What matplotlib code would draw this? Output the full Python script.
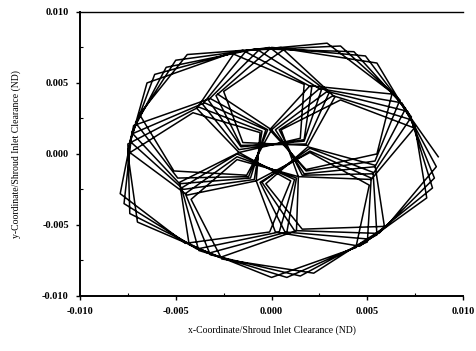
import numpy as np
import matplotlib
matplotlib.use("Agg")
import matplotlib.pyplot as plt
from matplotlib.ticker import MultipleLocator, FormatStrFormatter

# Orbit of the shroud centre, sampled positions in units of 1e-4 of the inlet clearance
orbit_x_e4 = [87, 64, 20, -1, 18, 55, 63, 29, -19, -39, -17, 15, 17, -21, -65, -75, -44, -8, -6, -41,
              -75, -70, -27, 13, 14, -18, -42, -26, 22, 59, 54, 19, -3, 16, 60, 86, 68, 25, 0, 18,
              54, 67, 36, -13, -36, -17, 17, 21, -15, -61, -74, -46, -9, -5, -38, -75, -74, -33, 8, 13,
              -18, -45, -32, 15, 55, 53, 20, -5, 12, 56, 85, 71, 29, 2, 17, 54, 70, 43, -6, -33,
              -16, 17, 26, -8, -55, -73, -48, -11, -3, -35, -73, -77, -39, 4, 12, -18, -47, -38, 8, 50,
              52, 20, -6, 7, 51, 84, 73, 32, 4, 16, 53, 73, 49, 0, -29, -16, 18, 30, -1, -50,
              -71, -49, -12, -2, -32, -72, -79, -45, -1, 10, -17, -48, -43, 0, 44, 51, 20, -8, 2, 46,
              81, 75, 36, 5, 14, 52, 75, 55, 7, -25, -15, 19, 33, 5, -44, -69, -51, -13, 0, -28]
orbit_y_e4 = [-2, 42, 48, 17, -11, 0, 43, 78, 72, 32, 1, 11, 49, 71, 50, 2, -29, -19, 15, 29,
              0, -48, -73, -54, -16, -4, -32, -74, -84, -52, -8, 5, -21, -53, -51, -9, 36, 46, 17, -12,
              -5, 38, 76, 73, 35, 3, 10, 47, 73, 56, 9, -25, -18, 16, 33, 7, -42, -70, -55, -17,
              -2, -28, -71, -86, -57, -13, 4, -20, -54, -56, -17, 30, 44, 17, -14, -9, 32, 72, 74, 38,
              5, 9, 45, 74, 61, 15, -21, -17, 17, 36, 14, -35, -67, -55, -18, 0, -24, -68, -87, -62,
              -17, 2, -20, -55, -60, -24, 24, 41, 17, -15, -14, 26, 69, 75, 41, 6, 7, 43, 75, 66,
              22, -17, -16, 17, 39, 20, -28, -63, -55, -19, 1, -20, -64, -87, -66, -22, 1, -19, -55, -65,
              -31, 18, 38, 17, -16, -18, 19, 64, 74, 44, 8, 6, 40, 75, 70, 28, -12, -15, 17, 42]

axis_limits = (-0.010, 0.010)
x_label = 'x-Coordinate/Shroud Inlet Clearance (ND)'
y_label = 'y-Coordinate/Shroud Inlet Clearance (ND)'

x = np.array(orbit_x_e4) * 1e-4
y = np.array(orbit_y_e4) * 1e-4

plt.rcParams['font.family'] = ['Liberation Serif', 'DejaVu Serif']
fig = plt.figure(figsize=(4.76, 3.51), dpi=100)
ax = fig.add_axes([0.168, 0.157, 0.805, 0.809])
ax.plot(x, y, color='black', lw=1.1)

ax.set_xlim(*axis_limits)
ax.set_ylim(*axis_limits)
ax.xaxis.set_major_locator(MultipleLocator(0.005))
ax.yaxis.set_major_locator(MultipleLocator(0.005))
ax.xaxis.set_minor_locator(MultipleLocator(0.0025))
ax.yaxis.set_minor_locator(MultipleLocator(0.0025))
ax.xaxis.set_major_formatter(FormatStrFormatter('%.3f'))
ax.yaxis.set_major_formatter(FormatStrFormatter('%.3f'))
ax.tick_params(which='major', direction='out', length=3, width=1.0, labelsize=7.5, pad=5)
ax.tick_params(which='minor', direction='in', length=2, width=0.8)
for s in ('left', 'bottom'):
    ax.spines[s].set_linewidth(1.4)
ax.spines['top'].set_linewidth(1.0)
ax.spines['right'].set_visible(False)

ax.set_xlabel(x_label, fontsize=7, labelpad=7)
ax.set_ylabel(y_label, fontsize=7, labelpad=15)
for lab in ax.get_xticklabels() + ax.get_yticklabels():
    lab.set_fontweight('bold')

fig.savefig('out.png', dpi=100)
